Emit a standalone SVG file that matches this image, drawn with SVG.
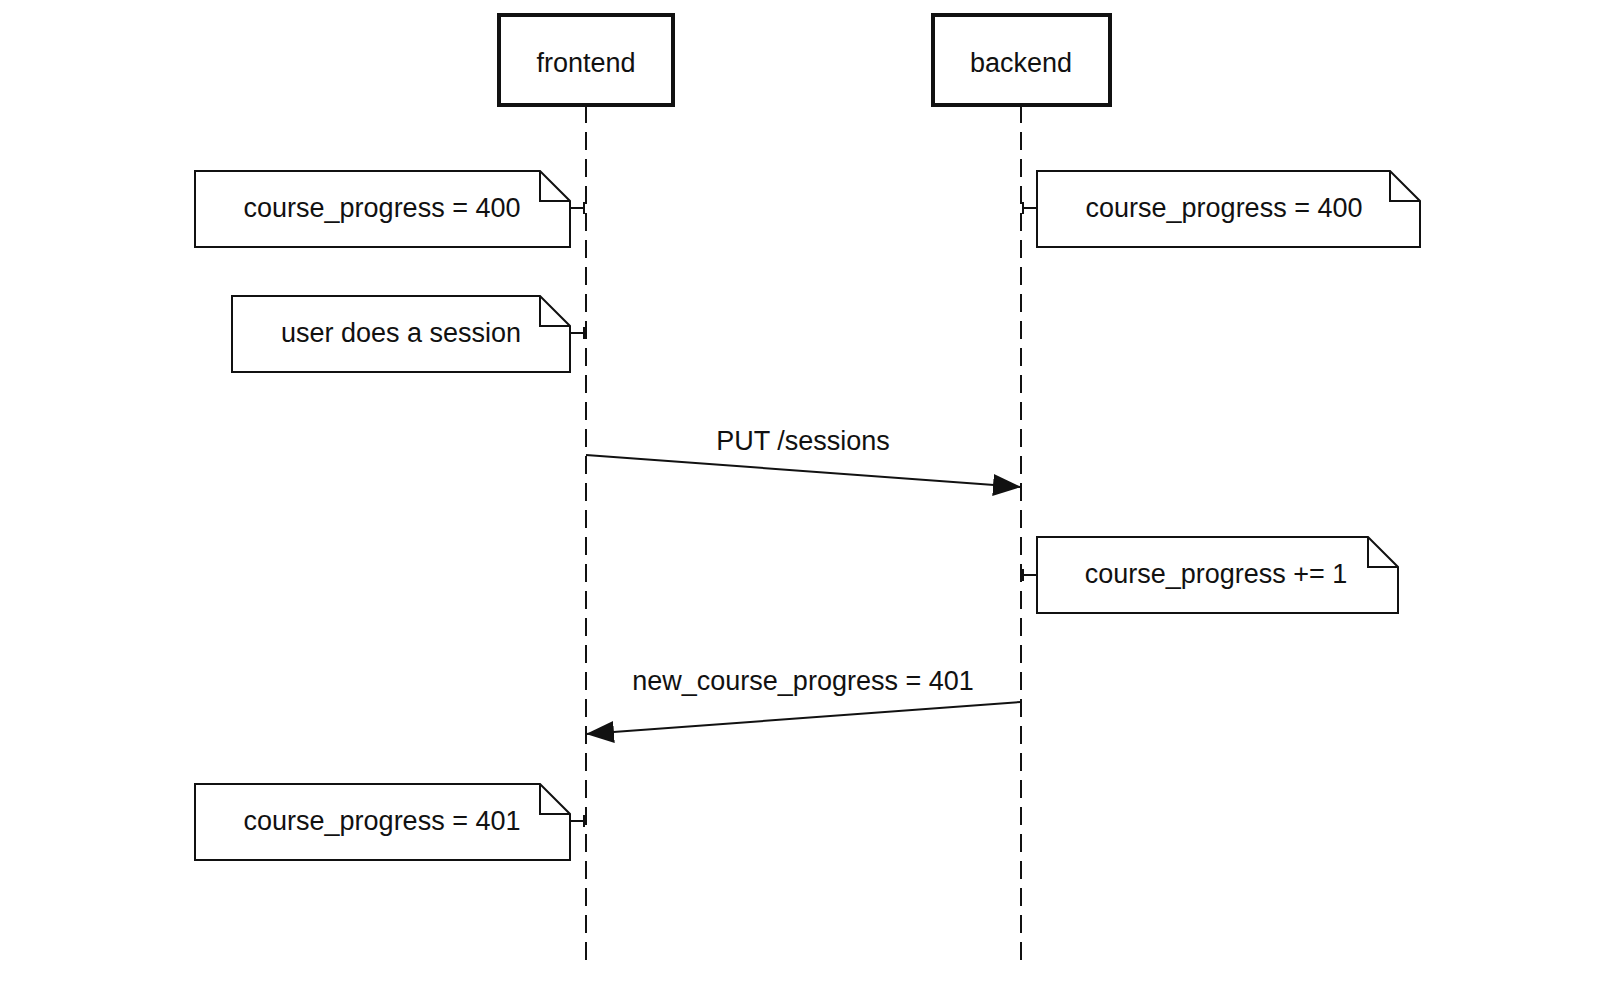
<svg xmlns="http://www.w3.org/2000/svg" width="1600" height="984" viewBox="0 0 1600 984">
<style>
text{font-family:"Liberation Sans",Arial,sans-serif;font-size:27px;fill:#111}
.box{fill:#fff;stroke:#111;stroke-width:4}
.note{fill:#fff;stroke:#111;stroke-width:2}
.life{stroke:#111;stroke-width:2;stroke-dasharray:18,9;fill:none}
.ln{stroke:#111;stroke-width:2;fill:none}
</style>
<defs>
<marker id="ahb" markerWidth="28" markerHeight="22" refX="28" refY="11" orient="auto" markerUnits="userSpaceOnUse" viewBox="0 0 28 22"><path d="M0,0L28,11L0,22z" fill="#111"/></marker></defs>
<g id="lifelines"><line class="life" x1="586" y1="105" x2="586" y2="965"/><line class="life" x1="1021" y1="105" x2="1021" y2="965"/></g>
<g id="frontend"><rect class="box" x="499" y="15" width="174" height="90"/><text x="586" y="72" text-anchor="middle">frontend</text></g>
<g id="backend"><rect class="box" x="933" y="15" width="177" height="90"/><text x="1021" y="72" text-anchor="middle">backend</text></g>
<g id="note1"><path class="note" d="M195,171H540L570,201V247H195Z M540,171V201H570"/><text x="382" y="217" text-anchor="middle">course_progress = 400</text></g>
<g id="note2"><path class="note" d="M232,296H540L570,326V372H232Z M540,296V326H570"/><text x="401" y="342" text-anchor="middle">user does a session</text></g>
<g id="note3"><path class="note" d="M1037,171H1390L1420,201V247H1037Z M1390,171V201H1420"/><text x="1224" y="217" text-anchor="middle">course_progress = 400</text></g>
<g id="note4"><path class="note" d="M1037,537H1368L1398,567V613H1037Z M1368,537V567H1398"/><text x="1216" y="583" text-anchor="middle">course_progress += 1</text></g>
<g id="note5"><path class="note" d="M195,784H540L570,814V860H195Z M540,784V814H570"/><text x="382" y="830" text-anchor="middle">course_progress = 401</text></g>
<g id="connectors">
<path class="ln" d="M570,208H584M584,202V214"/>
<path class="ln" d="M570,333H584M584,327V339"/>
<path class="ln" d="M1037,208H1023M1023,202V214"/>
<path class="ln" d="M1037,575H1023M1023,569V581"/>
<path class="ln" d="M570,821H584M584,815V827"/>
<line class="ln" x1="586" y1="455" x2="1021" y2="487" marker-end="url(#ahb)"/>
<text x="803" y="450" text-anchor="middle">PUT /sessions</text>
<line class="ln" x1="1021" y1="702" x2="586" y2="734" marker-end="url(#ahb)"/>
<text x="803" y="690" text-anchor="middle">new_course_progress = 401</text>
</g>
</svg>
